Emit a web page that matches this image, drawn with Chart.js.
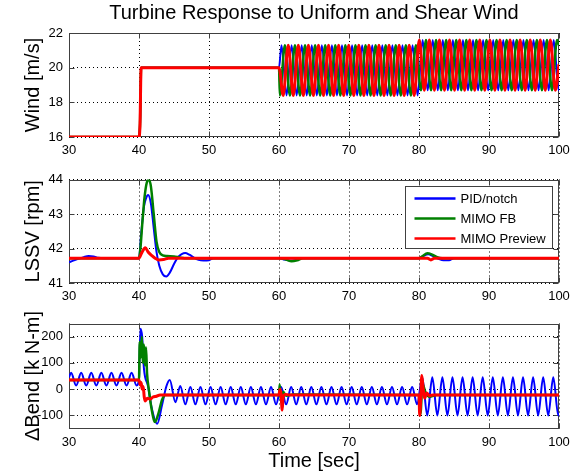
<!DOCTYPE html>
<html>
<head>
<meta charset="utf-8">
<script src="https://cdn.jsdelivr.net/npm/chart.js@4/dist/chart.umd.min.js"></script>
<style>
  html, body { margin: 0; padding: 0; background: #fff; }
  #wrap { position: relative; width: 576px; height: 474px; }
  canvas { position: absolute; left: 0; }
</style>
</head>
<body>
<div id="wrap">
  <canvas id="cWind" width="576" height="158" style="top:0px"></canvas>
  <canvas id="cLssv" width="576" height="145" style="top:158px"></canvas>
  <canvas id="cBend" width="576" height="171" style="top:303px"></canvas>
</div>
<script>
// ---- data: [time s, value] ----
const seriesNames = ['PID/notch', 'MIMO FB', 'MIMO Preview'];
const timeTicks = [30, 40, 50, 60, 70, 80, 90, 100];
const windTicks = [16, 18, 20, 22];
const lssvTicks = [41, 42, 43, 44];
const bendTicks = [-100, 0, 100, 200];

const windBlue = [[30,16],[40,16],[40.15,16.8],[40.3,20],[60,20],
  [60.36,21.3],[61.08,18.4],[61.80,21.3],[62.52,18.4],[63.24,21.3],[63.96,18.4],[64.68,21.3],[65.40,18.4],
  [66.12,21.3],[66.84,18.4],[67.56,21.3],[68.28,18.4],[69.00,21.3],[69.72,18.4],[70.44,21.3],[71.16,18.4],
  [71.88,21.3],[72.60,18.4],[73.32,21.3],[74.04,18.4],[74.76,21.3],[75.48,18.4],[76.20,21.3],[76.92,18.4],
  [77.64,21.3],[78.36,18.4],[79.08,21.3],[79.80,18.4],
  [80.52,21.6],[81.24,18.7],[81.96,21.6],[82.68,18.7],[83.40,21.6],[84.12,18.7],[84.84,21.6],[85.56,18.7],
  [86.28,21.6],[87.00,18.7],[87.72,21.6],[88.44,18.7],[89.16,21.6],[89.88,18.7],[90.60,21.6],[91.32,18.7],
  [92.04,21.6],[92.76,18.7],[93.48,21.6],[94.20,18.7],[94.92,21.6],[95.64,18.7],[96.36,21.6],[97.08,18.7],
  [97.80,21.6],[98.52,18.7],[99.24,21.6],[99.96,18.7],[100,18.8]];
const windGreen = [[30,16],[40,16],[40.15,16.8],[40.3,20],[60,20],
  [60.12,18.4],[60.84,21.3],[61.56,18.4],[62.28,21.3],[63.00,18.4],[63.72,21.3],[64.44,18.4],[65.16,21.3],
  [65.88,18.4],[66.60,21.3],[67.32,18.4],[68.04,21.3],[68.76,18.4],[69.48,21.3],[70.20,18.4],[70.92,21.3],
  [71.64,18.4],[72.36,21.3],[73.08,18.4],[73.80,21.3],[74.52,18.4],[75.24,21.3],[75.96,18.4],[76.68,21.3],
  [77.40,18.4],[78.12,21.3],[78.84,18.4],[79.56,21.3],
  [80.28,18.7],[81.00,21.6],[81.72,18.7],[82.44,21.6],[83.16,18.7],[83.88,21.6],[84.60,18.7],[85.32,21.6],
  [86.04,18.7],[86.76,21.6],[87.48,18.7],[88.20,21.6],[88.92,18.7],[89.64,21.6],[90.36,18.7],[91.08,21.6],
  [91.80,18.7],[92.52,21.6],[93.24,18.7],[93.96,21.6],[94.68,18.7],[95.40,21.6],[96.12,18.7],[96.84,21.6],
  [97.56,18.7],[98.28,21.6],[99.00,18.7],[99.72,21.6],[100,21.3]];
const windRed = [[30,16],[40,16],[40.15,16.8],[40.3,20],[60,20],
  [60.60,18.4],[61.32,21.3],[62.04,18.4],[62.76,21.3],[63.48,18.4],[64.20,21.3],[64.92,18.4],[65.64,21.3],
  [66.36,18.4],[67.08,21.3],[67.80,18.4],[68.52,21.3],[69.24,18.4],[69.96,21.3],[70.68,18.4],[71.40,21.3],
  [72.12,18.4],[72.84,21.3],[73.56,18.4],[74.28,21.3],[75.00,18.4],[75.72,21.3],[76.44,18.4],[77.16,21.3],
  [77.88,18.4],[78.60,21.3],[79.32,18.4],
  [80.04,21.6],[80.76,18.7],[81.48,21.6],[82.20,18.7],[82.92,21.6],[83.64,18.7],[84.36,21.6],[85.08,18.7],
  [85.80,21.6],[86.52,18.7],[87.24,21.6],[87.96,18.7],[88.68,21.6],[89.40,18.7],[90.12,21.6],[90.84,18.7],
  [91.56,21.6],[92.28,18.7],[93.00,21.6],[93.72,18.7],[94.44,21.6],[95.16,18.7],[95.88,21.6],[96.60,18.7],
  [97.32,21.6],[98.04,18.7],[98.76,21.6],[99.48,18.7],[100,20.2]];

const lssvBlue = [[30,41.6],[30.6,41.65],[31.3,41.7],[32.1,41.75],[32.8,41.78],[33.5,41.77],[34.2,41.73],[35,41.72],
  [40,41.72],[40.3,42.4],[40.7,43.2],[41.0,43.45],[41.3,43.55],[41.7,43.3],[42.1,42.6],[42.5,41.9],[42.9,41.5],
  [43.4,41.25],[43.9,41.19],[44.4,41.3],[45.0,41.55],[45.6,41.76],[46.1,41.84],[46.6,41.87],[47.2,41.82],
  [47.8,41.74],[48.5,41.67],[49.2,41.65],[50,41.66],[50.6,41.72],[60,41.72],[60.8,41.68],[61.6,41.65],
  [62.4,41.67],[63.2,41.72],[80,41.72],[80.6,41.78],[81.3,41.83],[82,41.78],[82.8,41.7],[83.5,41.66],
  [84.3,41.66],[85,41.72],[100,41.72]];
const lssvGreen = [[30,41.72],[40,41.72],[40.2,42.0],[40.5,42.8],[40.8,43.5],[41.1,43.9],[41.4,44.0],[41.7,43.8],
  [42.1,43.0],[42.5,42.2],[42.9,41.9],[43.4,41.8],[44,41.78],[45,41.77],[45.8,41.74],[46.5,41.72],[60,41.72],
  [61,41.68],[61.8,41.63],[62.6,41.66],[63.4,41.72],[80,41.72],[80.5,41.78],[81.2,41.86],[81.9,41.82],
  [82.6,41.75],[83.3,41.72],[100,41.72]];
const lssvRed = [[30,41.72],[40,41.72],[40.4,41.88],[40.9,42.02],[41.3,41.9],[41.8,41.8],[42.3,41.72],
  [42.8,41.67],[43.5,41.68],[44.2,41.72],[81.2,41.72],[81.7,41.67],[82.2,41.72],[100,41.72]];

const bendBlue = [[30,45],[30.3,62],[31.02,14],[31.74,62],[32.46,14],[33.18,62],[33.90,14],[34.62,62],
  [35.34,14],[36.06,62],[36.78,14],[37.50,62],[38.22,14],[38.94,62],[39.66,14],
  [40.0,40],[40.2,230],[40.45,200],[40.7,80],[41.3,10],[41.8,-70],[42.6,-132],[43.3,-60],[43.9,10],
  [44.4,35],[45.2,-50],[45.9,12],[46.62,-58],[47.34,8],[48.06,-58],[48.78,8],[49.50,-58],[50.22,8],
  [50.94,-58],[51.66,8],[52.38,-58],[53.10,8],[53.82,-58],[54.54,8],[55.26,-58],[55.98,8],[56.70,-58],
  [57.42,8],[58.14,-58],[58.86,8],[59.58,-58],[60.30,8],[61.02,-58],[61.74,8],[62.46,-58],[63.18,8],
  [63.90,-58],[64.62,8],[65.34,-58],[66.06,8],[66.78,-58],[67.50,8],[68.22,-58],[68.94,8],[69.66,-58],
  [70.38,8],[71.10,-58],[71.82,8],[72.54,-58],[73.26,8],[73.98,-58],[74.70,8],[75.42,-58],[76.14,8],
  [76.86,-58],[77.58,8],[78.30,-58],[79.02,8],[79.74,-58],
  [80.46,45],[81.18,-100],[81.90,45],[82.62,-100],[83.34,45],[84.06,-100],[84.78,45],[85.50,-100],
  [86.22,45],[86.94,-100],[87.66,45],[88.38,-100],[89.10,45],[89.82,-100],[90.54,45],[91.26,-100],
  [91.98,45],[92.70,-100],[93.42,45],[94.14,-100],[94.86,45],[95.58,-100],[96.30,45],[97.02,-100],
  [97.74,45],[98.46,-100],[99.18,45],[99.90,-100],[100,-90]];
const bendGreen = [[30,35],[40,35],[40.1,180],[40.25,120],[40.4,200],[40.55,100],[40.7,170],[40.85,90],
  [41.0,160],[41.15,60],[41.4,0],[41.7,-60],[42.1,-115],[42.3,-125],[42.8,-90],[43.3,-40],[43.8,-22],
  [60,-22],[60.1,18],[60.3,-50],[60.6,-10],[61,-25],[62,-20],[80,-22],[80.2,-95],[80.5,20],[80.9,-10],
  [81.5,-30],[82.5,-22],[100,-22]];
const bendRed = [[30,35],[40,35],[40.2,15],[40.3,25],[40.45,0],[40.6,10],[40.75,-30],[40.9,-45],[41.2,-35],
  [41.6,-38],[42.0,-30],[42.5,-27],[43.0,-22],[60,-22],[60.15,0],[60.3,-20],[60.45,-80],[60.6,-30],
  [60.9,-20],[61.5,-22],[80,-22],[80.1,-100],[80.25,-40],[80.4,52],[80.6,0],[80.8,-35],[81.1,-15],
  [81.5,-25],[82,-22],[100,-22]];

const FONT = "'Liberation Sans', Arial, Helvetica, sans-serif";
const FRAME = '#404040';
Chart.defaults.font.family = FONT;
Chart.defaults.color = '#000';

// MATLAB-like axes: box + inward ticks under the data, legend and rotated y label on top
const matlabAxes = {
  id: 'matlabAxes',
  beforeDatasetsDraw(chart) {
    const {ctx, chartArea: a, scales} = chart;
    const L = Math.round(a.left) + 0.5, R = Math.round(a.right) - 0.5;
    const T = Math.round(a.top) + 0.5, B = Math.round(a.bottom) - 0.5;
    ctx.save();
    ctx.strokeStyle = FRAME;
    ctx.lineWidth = 1;
    ctx.beginPath();
    scales.x.ticks.forEach(t => {
      const px = Math.round(scales.x.getPixelForValue(t.value)) + 0.5;
      ctx.moveTo(px, B); ctx.lineTo(px, B - 5);
      ctx.moveTo(px, T); ctx.lineTo(px, T + 5);
    });
    scales.y.ticks.forEach(t => {
      const py = Math.round(scales.y.getPixelForValue(t.value)) + 0.5;
      ctx.moveTo(L, py); ctx.lineTo(L + 5, py);
      ctx.moveTo(R, py); ctx.lineTo(R - 5, py);
    });
    ctx.stroke();
    ctx.strokeRect(L, T, R - L, B - T);
    ctx.restore();
  },
  afterDatasetsDraw(chart, args, opts) {
    const {ctx, chartArea: a} = chart;
    ctx.save();
    if (opts.legend) {
      const bw = 147, bh = 62;
      const bx = Math.round(a.right - 7 - bw) + 0.5, by = Math.round(a.top + 6) + 0.5;
      ctx.fillStyle = '#fff';
      ctx.fillRect(bx, by, bw, bh);
      ctx.strokeStyle = FRAME;
      ctx.lineWidth = 1;
      ctx.strokeRect(bx, by, bw, bh);
      ctx.font = '13px ' + FONT;
      ctx.textAlign = 'left';
      ctx.textBaseline = 'middle';
      chart.data.datasets.forEach((ds, i) => {
        const y = by + 12 + i * 20;
        ctx.strokeStyle = ds.borderColor;
        ctx.lineWidth = 2.5;
        ctx.beginPath();
        ctx.moveTo(bx + 9, y); ctx.lineTo(bx + 50, y);
        ctx.stroke();
        ctx.fillStyle = '#000';
        ctx.fillText(ds.label, bx + 55, y + 0.5);
      });
    }
    ctx.translate(opts.labelX, (a.top + a.bottom) / 2);
    ctx.rotate(-Math.PI / 2);
    ctx.font = '20px ' + FONT;
    ctx.fillStyle = '#000';
    ctx.textAlign = 'center';
    ctx.textBaseline = 'middle';
    ctx.fillText(opts.ylabel, 0, 0);
    ctx.restore();
  }
};

function lines(blue, green, red) {
  return [
    {label: seriesNames[0], data: blue, borderColor: '#0000ff', borderWidth: 2, order: 3},
    {label: seriesNames[1], data: green, borderColor: '#008000', borderWidth: 2.5, order: 2},
    {label: seriesNames[2], data: red, borderColor: '#ff0000', borderWidth: 3, order: 1}
  ].map(d => Object.assign(d, {pointRadius: 0, fill: false, cubicInterpolationMode: 'monotone'}));
}

function makeChart(id, o) {
  new Chart(document.getElementById(id), {
    type: 'line',
    data: {datasets: lines(o.blue, o.green, o.red)},
    plugins: [matlabAxes],
    options: {
      responsive: false,
      animation: false,
      events: [],
      layout: {padding: {top: o.padTop, left: 0, right: 17, bottom: 0}},
      plugins: {
        legend: {display: false},
        tooltip: {enabled: false},
        title: o.title ? {
          display: true, text: o.title, fullSize: false, color: '#000',
          font: {size: 20, weight: 'normal'}, padding: {top: 1, bottom: 8}
        } : {display: false},
        matlabAxes: {ylabel: o.ylabel, labelX: 33, legend: !!o.legend}
      },
      scales: {
        x: {
          type: 'linear', min: 30, max: 100,
          afterBuildTicks: s => { s.ticks = timeTicks.map(v => ({value: v})); },
          afterFit: s => { s.height = o.xHeight; },
          grid: {color: '#000', lineWidth: 1, drawTicks: false},
          border: {display: false, dash: [1, 3]},
          ticks: {font: {size: 13}, color: '#000', padding: 6, maxRotation: 0, autoSkip: false},
          title: o.xlabel ? {
            display: true, text: o.xlabel, color: '#000', font: {size: 20},
            padding: {top: 0, bottom: 1}
          } : {display: false}
        },
        y: {
          type: 'linear', min: o.yMin, max: o.yMax,
          afterBuildTicks: s => { s.ticks = o.yTicks.map(v => ({value: v})); },
          afterFit: s => { s.width = 69; },
          grid: {color: '#000', lineWidth: 1, drawTicks: false},
          border: {display: false, dash: [1, 3]},
          ticks: {font: {size: 13}, color: '#000', padding: 6}
        }
      }
    }
  });
}

makeChart('cWind', {
  blue: windBlue, green: windGreen, red: windRed,
  title: 'Turbine Response to Uniform and Shear Wind', ylabel: 'Wind [m/s]',
  yMin: 16, yMax: 22, yTicks: windTicks, padTop: 0, xHeight: 21
});
makeChart('cLssv', {
  blue: lssvBlue, green: lssvGreen, red: lssvRed,
  ylabel: 'LSSV [rpm]', legend: true,
  yMin: 41, yMax: 44, yTicks: lssvTicks, padTop: 21.5, xHeight: 20
});
makeChart('cBend', {
  blue: bendBlue, green: bendGreen, red: bendRed,
  ylabel: '\u0394Bend [k N-m]', xlabel: 'Time [sec]',
  yMin: -150, yMax: 250, yTicks: bendTicks, padTop: 20.5, xHeight: 45.5
});
</script>
</body>
</html>
